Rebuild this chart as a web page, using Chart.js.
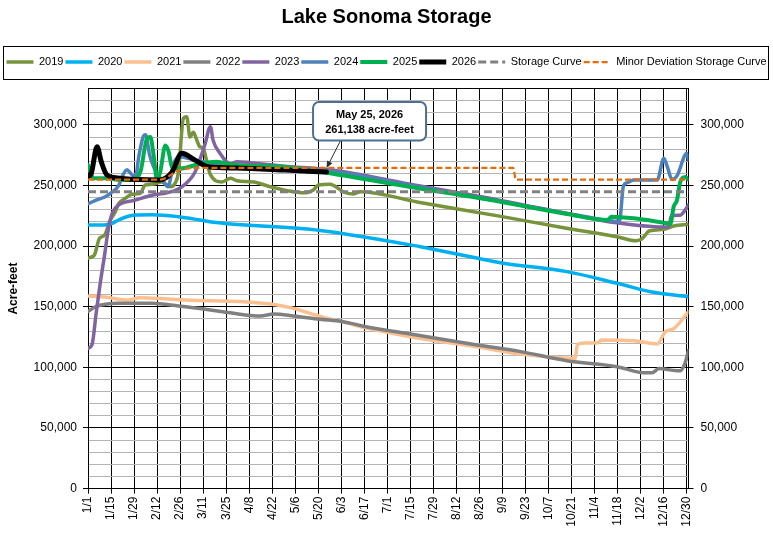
<!DOCTYPE html>
<html>
<head>
<meta charset="utf-8">
<script src="https://cdn.jsdelivr.net/npm/chart.js@4.4.1/dist/chart.umd.min.js"></script>
<style>
html,body{margin:0;padding:0;background:#fff;}
canvas{display:block;}
</style>
</head>
<body>
<canvas id="c" width="773" height="559" style="width:773px;height:559px"></canvas>
<script>
// ---- tick labels (day-of-year every 14 days) ----
const xTickLabels = ['1/1','1/15','1/29','2/12','2/26','3/11','3/25','4/8','4/22','5/6','5/20','6/3','6/17','7/1','7/15','7/29','8/12','8/26','9/9','9/23','10/7','10/21','11/4','11/18','12/2','12/16','12/30'];
const chartTitle = 'Lake Sonoma Storage';
const yAxisTitle = 'Acre-feet';
const seriesNames = ['2019','2020','2021','2022','2023','2024','2025','2026','Storage Curve','Minor Deviation Storage Curve'];

// ---- series values: [day of year, acre-feet] ----
const s2019 = [[0,190000],[2,191000],[4,193000],[7,206500],[10,209000],[13.6,221600],[16.6,228400],[18.6,235000],[22.7,239500],[26.7,242800],[31.8,243600],[34.8,250500],[38.9,251000],[45,253000],[50,249000],[53,252000],[55,261000],[58,305500],[60,306800],[62,290000],[64,294000],[66,288000],[68,282000],[70,281000],[72,271000],[74.4,259000],[81.4,253000],[86.5,256000],[90.6,254000],[100.7,253000],[110.8,249000],[121,245800],[131,244000],[137,246300],[140,250500],[147,251000],[156,244400],[161.5,243000],[165.5,245000],[200,236500],[250,224800],[290,215000],[321.6,207800],[333,204500],[336,205500],[338,208000],[341,212500],[350,213900],[356,216600],[365,218000]];
const s2020 = [[0,217500],[10,217500],[14,218500],[18.6,221600],[24,224500],[28.8,225700],[39,226000],[55,224300],[68,221600],[75,220000],[141,213000],[202,199600],[250.7,186400],[291,179000],[321.6,169400],[341.9,162400],[365,158300]];
const s2021 = [[0,158900],[10,158000],[24.7,155600],[31,157500],[49,156400],[59,155600],[74.4,155000],[94.6,154200],[115,151500],[125,148700],[135,144600],[145,140500],[155,137700],[167.5,133000],[196,125300],[236.5,117000],[263,111000],[296,107500],[297.5,118500],[300,120000],[310,120400],[312,122500],[332,122000],[346,119300],[351,129500],[356,132000],[365,146000]];
const s2022 = [[0,146000],[4.4,150000],[18.6,153000],[39,152900],[55,150600],[74.4,147300],[86.5,145000],[104.7,142400],[113,144000],[125,142400],[141,139700],[155,137700],[167.5,134000],[196,127500],[236.5,118500],[263,113000],[291,105500],[321.6,100600],[337.8,95600],[342.9,95600],[347,99000],[358,97300],[360,97300],[363,104000],[365,114000]];
const s2023 = [[0,115700],[2.4,118500],[5,145000],[7.5,170000],[10,192000],[12.5,215000],[15,228000],[18.6,234000],[28.8,238000],[38.9,242000],[49,244400],[57,249000],[65,261000],[71,283500],[74.4,298600],[76,287500],[80,277000],[86.5,268000],[90.6,269700],[98.7,268900],[119,266000],[147,263000],[200,250000],[250,238000],[300,224500],[320,219500],[350,215800],[353,216000],[354.5,225000],[360,225500],[362,228000],[365,234000]];
const s2024 = [[0,235000],[5,238000],[10.5,240800],[14,244000],[18.6,250000],[21,258000],[23.7,263000],[26,260000],[28.8,257000],[31,275000],[33.8,291000],[35,292000],[37.5,275000],[40,265000],[43,258000],[46,253000],[48.6,249000],[52,268000],[56,273800],[62,272000],[70,269700],[84.5,267000],[120,265000],[147,262000],[200,249000],[250,237000],[300,225000],[323,220500],[325.5,250000],[328,252500],[331.7,254600],[346,254600],[350,272500],[352,266000],[355,255000],[358,258000],[364,276600],[365,271000]];
const s2025 = [[0,267000],[3.4,256000],[10,256000],[21.6,254600],[28,255000],[32,262000],[35.9,289000],[37.9,290000],[39.9,275000],[42,254600],[44,262000],[47,283000],[49,278000],[51,265600],[56,264000],[68,268000],[78,269700],[88.5,267000],[119,265500],[141,261400],[200,248000],[250.7,236700],[291,226500],[316,221600],[318,224300],[331.7,223000],[352,218900],[354,218500],[356,232600],[358,238000],[360,253000],[363,257000],[365,255000]];
const s2026 = [[0,257300],[2,260000],[5.5,282000],[8,270000],[11.5,258700],[16.6,256500],[30,255000],[43,254600],[51,261000],[57,276600],[65,271000],[73,265500],[90,264500],[120,262800],[145,261138]];
const sStorage = [[0,245000],[365,245000]];
const sMinorDev = [[0,255000],[44,255000],[56,263000],[64,264500],[258.5,264500],[260,255000],[365,255000]];

// ---- annotation ----
const calloutDay = 145;
const calloutValue = 261138;
const calloutLines = ['May 25, 2026','261,138 acre-feet'];

// ---- styles ----
const seriesData = [s2019,s2020,s2021,s2022,s2023,s2024,s2025,s2026,sStorage,sMinorDev];
const seriesColors = ['#77933C','#00B0F0','#FAC090','#808080','#8064A2','#4F81BD','#00B050','#000000','#808080','#E46C0A'];
const seriesWidths = [3.5,3.5,3.5,3.5,3.5,3.5,4,5,3,2.25];
const seriesDashes = [[],[],[],[],[],[],[],[],[8,4],[6,3]];

const FONT = "'Liberation Sans', Arial, sans-serif";
Chart.defaults.font.family = FONT;
Chart.defaults.font.size = 12;
Chart.defaults.color = '#000';

const datasets = seriesNames.map((name, i) => ({
  label: name,
  data: seriesData[i].map(p => ({x: p[0], y: p[1]})),
  borderColor: seriesColors[i],
  backgroundColor: seriesColors[i],
  borderWidth: seriesWidths[i],
  borderDash: seriesDashes[i],
  borderCapStyle: seriesDashes[i].length ? 'butt' : 'round',
  borderJoinStyle: 'round',
  pointRadius: 0,
  pointHoverRadius: 0,
  fill: false,
  cubicInterpolationMode: 'monotone',
  order: -i,
  xAxisID: 'x',
  yAxisID: 'y'
}));

const isMajor = v => v % 50000 === 0 || v === 330000;
const fmt = v => v.toLocaleString('en-US');

const bgPlugin = {
  id: 'bg',
  beforeDraw(chart) {
    const c = chart.ctx;
    c.save(); c.fillStyle = '#fff'; c.fillRect(0, 0, chart.width, chart.height); c.restore();
  }
};

const legendBoxPlugin = {
  id: 'legendBox',
  afterDraw(chart) {
    const lg = chart.legend; if (!lg) return;
    const c = chart.ctx;
    c.save();
    c.strokeStyle = '#000'; c.lineWidth = 1;
    const top = Math.round(lg.top - 8.5) + 0.5;
    c.strokeRect(3.5, top, 765, 33);
    c.restore();
  }
};

function roundRectPath(c, x, y, w, h, r) {
  c.beginPath();
  c.moveTo(x + r, y);
  c.lineTo(x + w - r, y); c.arcTo(x + w, y, x + w, y + r, r);
  c.lineTo(x + w, y + h - r); c.arcTo(x + w, y + h, x + w - r, y + h, r);
  c.lineTo(x + r, y + h); c.arcTo(x, y + h, x, y + h - r, r);
  c.lineTo(x, y + r); c.arcTo(x, y, x + r, y, r);
  c.closePath();
}

const calloutPlugin = {
  id: 'callout',
  afterDatasetsDraw(chart) {
    const c = chart.ctx;
    const xs = chart.scales.x, ys = chart.scales.y;
    const tx = xs.getPixelForValue(calloutDay);
    const ty = ys.getPixelForValue(calloutValue) - 4;
    const bw = 113, bh = 38.5;
    const bx = tx - 13.5, by = ty - 66;
    c.save();
    const sx = tx + 14, sy = by + bh;
    c.strokeStyle = '#303030'; c.lineWidth = 1;
    const ang = Math.atan2(ty - sy, tx - sx);
    const hl = 7, hw = 3;
    c.beginPath(); c.moveTo(sx, sy); c.lineTo(tx - (hl - 1) * Math.cos(ang), ty - (hl - 1) * Math.sin(ang)); c.stroke();
    c.fillStyle = '#303030';
    c.beginPath(); c.moveTo(tx, ty);
    c.lineTo(tx - hl * Math.cos(ang) + hw * Math.sin(ang), ty - hl * Math.sin(ang) - hw * Math.cos(ang));
    c.lineTo(tx - hl * Math.cos(ang) - hw * Math.sin(ang), ty - hl * Math.sin(ang) + hw * Math.cos(ang));
    c.closePath(); c.fill();
    roundRectPath(c, bx, by, bw, bh, 6);
    c.fillStyle = '#fff'; c.fill();
    c.strokeStyle = '#4F6D95'; c.lineWidth = 2; c.stroke();
    c.fillStyle = '#000';
    c.font = "bold 11px " + FONT;
    c.textAlign = 'center'; c.textBaseline = 'middle';
    c.fillText(calloutLines[0], bx + bw / 2, by + 12.5);
    c.fillText(calloutLines[1], bx + bw / 2, by + 27.5);
    c.restore();
  }
};

new Chart(document.getElementById('c'), {
  type: 'line',
  data: { datasets },
  plugins: [bgPlugin, legendBoxPlugin, calloutPlugin],
  options: {
    responsive: false,
    animation: false,
    events: [],
    layout: { padding: 0 },
    plugins: {
      tooltip: { enabled: false },
      title: {
        display: true,
        text: chartTitle,
        color: '#000',
        font: { size: 20, weight: 'bold', family: FONT },
        padding: { top: 5, bottom: 25.5 }
      },
      subtitle: {
        display: true,
        text: '',
        weight: 100,
        font: { size: 1 },
        padding: { top: 5.5, bottom: 4.4 }
      },
      legend: {
        display: true,
        position: 'top',
        labels: {
          usePointStyle: true,
          pointStyle: 'line',
          pointStyleWidth: 27,
          boxHeight: 11,
          padding: 2,
          color: '#000',
          font: { size: 11, family: FONT },
          generateLabels(chart) {
            return chart.data.datasets.map((ds, i) => ({
              text: ds.label,
              fillStyle: ds.borderColor,
              strokeStyle: ds.borderColor,
              lineWidth: ds.borderWidth,
              lineDash: ds.borderDash || [],
              lineCap: 'butt',
              pointStyle: 'line',
              hidden: false,
              fontColor: '#000',
              datasetIndex: i
            }));
          }
        }
      }
    },
    scales: {
      x: {
        type: 'linear',
        position: 'bottom',
        min: 0,
        max: 365,
        afterFit(s) { s.height = 70.4; },
        grid: { color: '#000', lineWidth: 1, drawTicks: true, tickLength: 5, tickColor: '#000' },
        border: { display: true, color: '#000', width: 1 },
        ticks: {
          stepSize: 14,
          maxTicksLimit: 1000,
          includeBounds: false,
          autoSkip: false,
          maxRotation: 90,
          minRotation: 90,
          padding: 3,
          color: '#000',
          font: { size: 12 },
          callback: v => { const k = Math.round(v / 14); return (Math.abs(v - k * 14) < 1e-6 && xTickLabels[k]) ? xTickLabels[k] : ''; }
        }
      },
      y: {
        type: 'linear',
        position: 'left',
        min: 0,
        max: 330000,
        afterFit(s) { s.width = 88; },
        title: { display: true, text: yAxisTitle, color: '#000', font: { size: 12, weight: 'bold' }, padding: { top: 6, bottom: 0 } },
        grid: {
          color: ctx => isMajor(ctx.tick.value) ? '#000' : '#B4B4B4',
          lineWidth: 1,
          drawTicks: true,
          tickLength: 5,
          tickColor: ctx => (ctx.tick.value % 50000 === 0) ? '#000' : 'rgba(0,0,0,0)'
        },
        border: { display: true, color: '#000', width: 1 },
        ticks: {
          stepSize: 10000,
          maxTicksLimit: 1000,
          autoSkip: false,
          padding: 6,
          color: '#000',
          font: { size: 12 },
          callback: v => (v % 50000 === 0) ? fmt(v) : ''
        }
      },
      y2: {
        type: 'linear',
        position: 'right',
        min: 0,
        max: 330000,
        afterFit(s) { s.width = 84.5; },
        grid: {
          drawOnChartArea: false,
          drawTicks: true,
          tickLength: 5,
          tickColor: ctx => (ctx.tick.value % 50000 === 0) ? '#000' : 'rgba(0,0,0,0)'
        },
        border: { display: true, color: '#000', width: 1 },
        ticks: {
          stepSize: 10000,
          maxTicksLimit: 1000,
          autoSkip: false,
          padding: 7,
          color: '#000',
          font: { size: 12 },
          callback: v => (v % 50000 === 0) ? fmt(v) : ''
        }
      }
    }
  }
});
</script>
</body>
</html>
